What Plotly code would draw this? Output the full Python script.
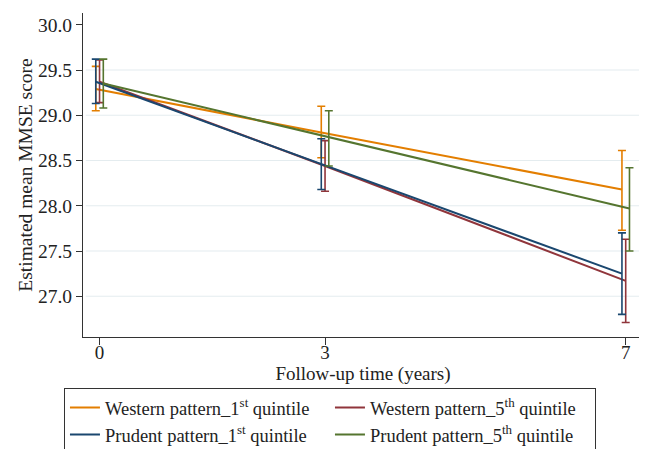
import plotly.graph_objects as go

# ---- data ----
years = [0, 3, 7]
x_tick_labels = ["0", "3", "7"]
y_tick_vals = [27.0, 27.5, 28.0, 28.5, 29.0, 29.5, 30.0]

western_q1_mean = [29.29, 28.81, 28.18]
western_q1_lo = [29.05, 28.53, 27.73]
western_q1_hi = [29.54, 29.10, 28.61]

western_q5_mean = [29.37, 28.44, 27.17]
western_q5_lo = [29.14, 28.16, 26.71]
western_q5_hi = [29.61, 28.72, 27.63]

prudent_q1_mean = [29.37, 28.46, 27.25]
prudent_q1_lo = [29.13, 28.18, 26.80]
prudent_q1_hi = [29.62, 28.74, 27.70]

prudent_q5_mean = [29.35, 28.76, 27.97]
prudent_q5_lo = [29.08, 28.44, 27.50]
prudent_q5_hi = [29.62, 29.05, 28.42]

series = [
    ("Western pattern_1<sup>st</sup> quintile", western_q1_mean, western_q1_lo, western_q1_hi, "#E37E00", -0.05),
    ("Western pattern_5<sup>th</sup> quintile", western_q5_mean, western_q5_lo, western_q5_hi, "#90353B", 0.0),
    ("Prudent pattern_1<sup>st</sup> quintile", prudent_q1_mean, prudent_q1_lo, prudent_q1_hi, "#1A476F", -0.05),
    ("Prudent pattern_5<sup>th</sup> quintile", prudent_q5_mean, prudent_q5_lo, prudent_q5_hi, "#55752F", 0.05),
]

FONT = "Liberation Serif"
TXT = "#222"

fig = go.Figure()
for name, m, lo, hi, col, off in series:
    fig.add_trace(go.Scatter(
        x=[t + off for t in years], y=m, name=name, mode="lines",
        line=dict(color=col, width=2),
        error_y=dict(type="data", symmetric=False,
                     array=[h - v for h, v in zip(hi, m)],
                     arrayminus=[v - l for v, l in zip(m, lo)],
                     color=col, thickness=1.6, width=4),
    ))

# gridlines (Stata style: none at top edge)
for v in y_tick_vals[:-1]:
    fig.add_shape(type="line", xref="paper", x0=0.005, x1=1, yref="y", y0=v, y1=v,
                  line=dict(color="#E4ECEF", width=1.2), layer="below")

# page body adds an 8px offset; figure is sized/margined to compensate
fig.update_layout(
    width=639, height=458,
    margin=dict(l=75, r=4, t=5, b=129),
    paper_bgcolor="white", plot_bgcolor="white",
    font=dict(family=FONT, size=19, color=TXT),
    showlegend=True,
    legend=dict(orientation="h", x=-0.034, y=-0.157, xanchor="left", yanchor="top",
                bordercolor="#333", borderwidth=1, entrywidth=220, entrywidthmode="pixels",
                font=dict(family=FONT, size=18.5, color=TXT), traceorder="normal",
                itemwidth=30),
)
fig.update_xaxes(range=[-0.22, 7.23], tickvals=years, ticktext=x_tick_labels,
                 showgrid=False, zeroline=False, showline=True, linecolor="#333", linewidth=1,
                 ticks="outside", ticklen=7, tickcolor="#333", automargin=False,
                 ticklabelstandoff=-9,
                 tickfont=dict(family=FONT, size=19, color=TXT),
                 title=dict(text="Follow-up time (years)", font=dict(family=FONT, size=19, color=TXT), standoff=3))
fig.update_yaxes(range=[26.55, 30.13], tickvals=y_tick_vals, tickformat=".1f",
                 showgrid=False, zeroline=False, showline=True, linecolor="#333", linewidth=1,
                 ticks="outside", ticklen=6, tickcolor="#333", automargin=False,
                 tickfont=dict(family=FONT, size=19.5, color=TXT),
                 title=dict(text="Estimated mean MMSE score", font=dict(family=FONT, size=19.5, color=TXT), standoff=0))

fig.write_html("out.html")
